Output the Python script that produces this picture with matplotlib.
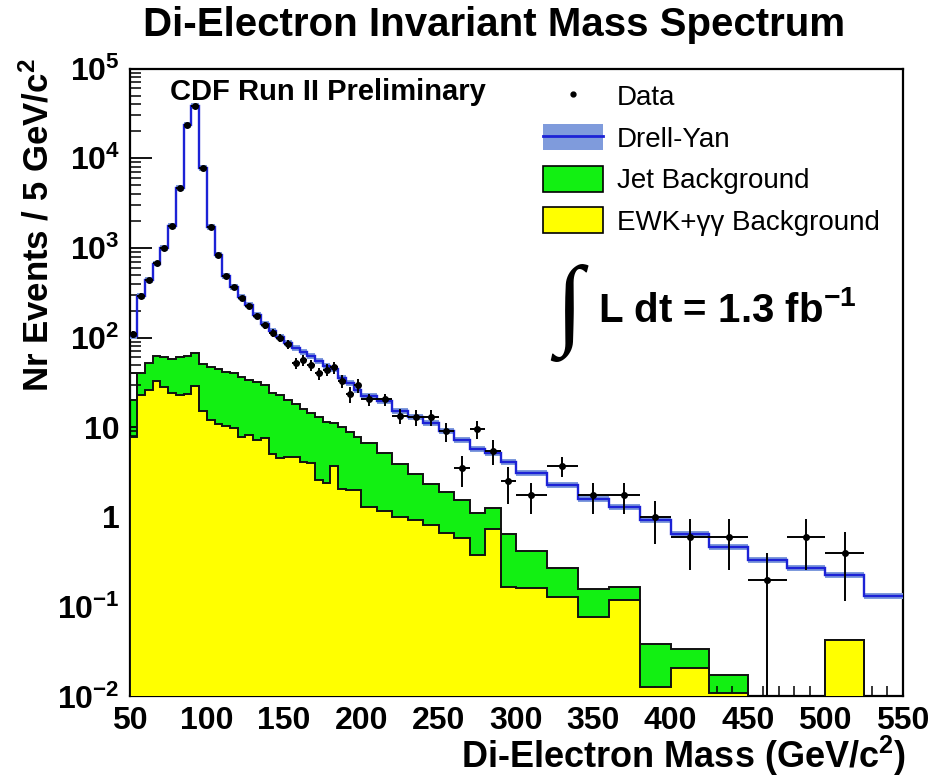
import numpy as np
import matplotlib
matplotlib.use("Agg")
import matplotlib.pyplot as plt
from matplotlib.patches import Patch
from matplotlib.lines import Line2D
from matplotlib.ticker import FixedLocator, LogLocator, NullFormatter, MultipleLocator, FixedFormatter

plt.rcParams['font.family'] = ['Liberation Sans', 'DejaVu Sans']
plt.rcParams['mathtext.fontset'] = 'custom'
plt.rcParams['mathtext.rm'] = 'Liberation Sans'
plt.rcParams['mathtext.bf'] = 'Liberation Sans:bold'
plt.rcParams['mathtext.default'] = 'bf'

# variable-width mass bins (GeV/c^2)
bin_edges = np.array(list(range(50, 200, 5)) + list(range(200, 300, 10)) +
                     list(range(300, 400, 20)) + list(range(400, 551, 25)), dtype=float)

# observed events per 5 GeV/c^2
data = [109, 294, 439, 671, 1000, 1760, 4620, 23700, 37900, 7760,
        1690, 824, 483, 366, 276, 225, 174, 138, 113, 99.5,
        84.5, 52, 56, 49, 40, 44, 46.5, 33, 23.4, 29.4,
        20.5, 20.5, 13.5, 13.0, 13.0, 9.0, 3.5, 9.5, 5.5, 2.5,
        1.75, 3.75, 1.75, 1.75, 1.0,
        0.6, 0.6, 0.2, 0.6, 0.4, 0]

# Drell-Yan prediction (total) per 5 GeV/c^2
drell_yan = [105, 290, 440, 670, 1000, 1750, 4600, 23500, 38500, 7800,
             1700, 830, 490, 370, 285, 230, 180, 142, 118, 102,
             88, 76, 69, 62, 55, 48, 45, 35, 31, 26,
             22.5, 19.7, 15.3, 13.0, 11.2, 9.1, 7.2, 5.7, 5.2, 4.1,
             3.1, 2.25, 1.6, 1.3, 0.92,
             0.64, 0.46, 0.33, 0.27, 0.225, 0.13]

# EWK + gamma-gamma background
ewk = [7.8, 23, 26, 32.9, 28.2, 24.2, 22.8, 23.8, 28.9, 15.2,
       12.2, 11, 10.3, 9.9, 7.8, 8.3, 7.2, 7.6, 5.0, 4.6,
       4.7, 4.7, 4.1, 4.0, 2.6, 2.4, 3.7, 2.07, 2.0, 1.98,
       1.3, 1.18, 1.0, 0.92, 0.82, 0.67, 0.58, 0.38, 0.74, 0.166,
       0.16, 0.127, 0.076, 0.12, 0.0126,
       0.0207, 0.011, 0, 0, 0.0424, 0]

# QCD jet background (stacked on EWK)
jet = [12.2, 16.8, 25.5, 29.1, 31.8, 33.3, 37.2, 38.2, 37.6, 35.4,
       35.0, 33.2, 31.2, 29.9, 28.7, 25.8, 24.8, 21.8, 19.2, 18.2,
       15.3, 13.7, 12.1, 10.5, 10.4, 9.1, 7.5, 8.03, 6.9, 5.82,
       5.3, 4.02, 2.9, 2.12, 1.53, 1.22, 0.97, 0.72, 0.52, 0.484,
       0.26, 0.143, 0.08, 0.045, 0.0254,
       0.0133, 0.0063, 0, 0, 0, 0]

# unfilled outline drawn on top of the stack in the lowest mass bin
first_bin_outline = 40.0

y_ticks = [1e-2, 1e-1, 1, 10, 1e2, 1e3, 1e4, 1e5]
y_tick_labels = [r'$10^{-2}$', r'$10^{-1}$', '1', '10', r'$10^{2}$', r'$10^{3}$', r'$10^{4}$', r'$10^{5}$']
x_ticks = [50, 100, 150, 200, 250, 300, 350, 400, 450, 500, 550]

GREEN = '#12f012'
YELLOW = '#ffff00'
DY_LINE = '#1c22d6'
DY_BAND = '#7f9bdc'
FLOOR = 1e-6

data = np.array(data, float)
drell_yan = np.array(drell_yan, float)
ewk = np.array(ewk, float)
jet = np.array(jet, float)
widths = np.diff(bin_edges)
centers = 0.5 * (bin_edges[:-1] + bin_edges[1:])

fig = plt.figure(figsize=(9.43, 7.78), dpi=100)
ax = fig.add_axes([129.5 / 943, 1 - 696.4 / 778, 773 / 943, 627.9 / 778])
ax.set_yscale('log')
ax.set_xlim(50, 550)
ax.set_ylim(1e-2, 1e5)

# stacked backgrounds: total (green) then EWK (yellow) over it
total = ewk + jet
tot_plot = np.where(total > 0, total, FLOOR)
ewk_plot = np.where(ewk > 0, ewk, FLOOR)
ax.stairs(tot_plot, bin_edges, baseline=FLOOR, fill=True, facecolor=GREEN, edgecolor='none', zorder=1)
ax.stairs(tot_plot, bin_edges, baseline=FLOOR, color='#111111', lw=1.4, zorder=2)
ax.stairs(ewk_plot, bin_edges, baseline=FLOOR, fill=True, facecolor=YELLOW, edgecolor='none', zorder=3)
ax.stairs(ewk_plot, bin_edges, baseline=FLOOR, color='#111111', lw=1.4, zorder=4)
ax.stairs([first_bin_outline], bin_edges[:2], baseline=total[0], color='#111111', lw=1.4, zorder=4)

# Drell-Yan with uncertainty band
ax.stairs(drell_yan * 1.08, bin_edges, baseline=drell_yan / 1.08, fill=True,
          facecolor=DY_BAND, edgecolor='none', zorder=5)
ax.stairs(drell_yan, bin_edges, baseline=None, color=DY_LINE, lw=1.7, zorder=6)

# data with Poisson errors (counts scaled to 5 GeV/c^2)
mask = data > 0
counts = data * widths / 5.0
err = np.sqrt(counts) * 5.0 / widths
err_lo = np.minimum(err, data - 1e-6)
ax.errorbar(centers[mask], data[mask], yerr=[err_lo[mask], err[mask]], xerr=widths[mask] / 2,
            fmt='o', ms=4, color='black', ecolor='black', elinewidth=1.4, capsize=0, zorder=8)

# axes styling
for s in ax.spines.values():
    s.set_linewidth(1.6)
ax.xaxis.set_major_locator(FixedLocator(x_ticks))
ax.xaxis.set_minor_locator(MultipleLocator(10))
ax.xaxis.set_major_formatter(FixedFormatter([str(v) for v in x_ticks]))
ax.yaxis.set_major_locator(FixedLocator(y_ticks))
ax.yaxis.set_major_formatter(FixedFormatter(y_tick_labels))
ax.yaxis.set_minor_locator(LogLocator(base=10, subs=np.arange(2, 10), numticks=20))
ax.yaxis.set_minor_formatter(NullFormatter())
ax.tick_params(axis='x', which='major', direction='in', length=13, width=1.3, labelsize=23, pad=7)
ax.tick_params(axis='x', which='minor', direction='in', length=7, width=1.1)
ax.tick_params(axis='y', which='major', direction='in', length=16, width=1.3, labelsize=23, pad=7)
ax.tick_params(axis='y', which='minor', direction='in', length=8, width=1.1)
for lab in ax.get_xticklabels() + ax.get_yticklabels():
    lab.set_fontweight('bold')

# texts
fig.text(494 / 943, 1 - 25 / 778, 'Di-Electron Invariant Mass Spectrum', ha='center', va='center',
         fontsize=29, fontweight='bold')
fig.text(38 / 943, 1 - 58 / 778, r'Nr Events / 5 GeV/c$^{2}$', rotation=90, ha='center', va='top',
         fontsize=25, fontweight='bold')
fig.text(906 / 943, 1 - 768 / 778, r'Di-Electron Mass (GeV/c$^{2}$)', ha='right', va='baseline',
         fontsize=26, fontweight='bold')
ax.text((170 - 129.5) / 773, (696.4 - 92) / 627.9, 'CDF Run II Preliminary', transform=ax.transAxes,
        ha='left', va='center', fontsize=21, fontweight='bold')
ax.text((555 - 129.5) / 773, (696.4 - 313) / 627.9, '\u222b', transform=ax.transAxes,
        ha='left', va='center', fontsize=72, family=['Liberation Serif', 'DejaVu Serif'])
ax.text((598 - 129.5) / 773, (696.4 - 311) / 627.9, r'L dt = 1.3 fb$^{-1}$', transform=ax.transAxes,
        ha='left', va='center', fontsize=29, fontweight='bold')

handles = [
    Line2D([], [], marker='o', ms=3.5, ls='none', color='black'),
    (Patch(facecolor=DY_BAND, edgecolor='none'), Line2D([], [], color=DY_LINE, lw=2.0)),
    Patch(facecolor=GREEN, edgecolor='black', lw=1.2),
    Patch(facecolor=YELLOW, edgecolor='black', lw=1.2),
]
labels = ['Data', 'Drell-Yan', 'Jet Background', 'EWK+\u03b3\u03b3 Background']
leg = ax.legend(handles, labels, loc='upper left', bbox_to_anchor=((543 - 129.5) / 773, (696.4 - 83) / 627.9),
                frameon=False, fontsize=20, handlelength=2.16, handleheight=1.05,
                labelspacing=0.47, handletextpad=0.5, borderaxespad=0, borderpad=0)

fig.savefig('out.png', dpi=100, facecolor='white')
